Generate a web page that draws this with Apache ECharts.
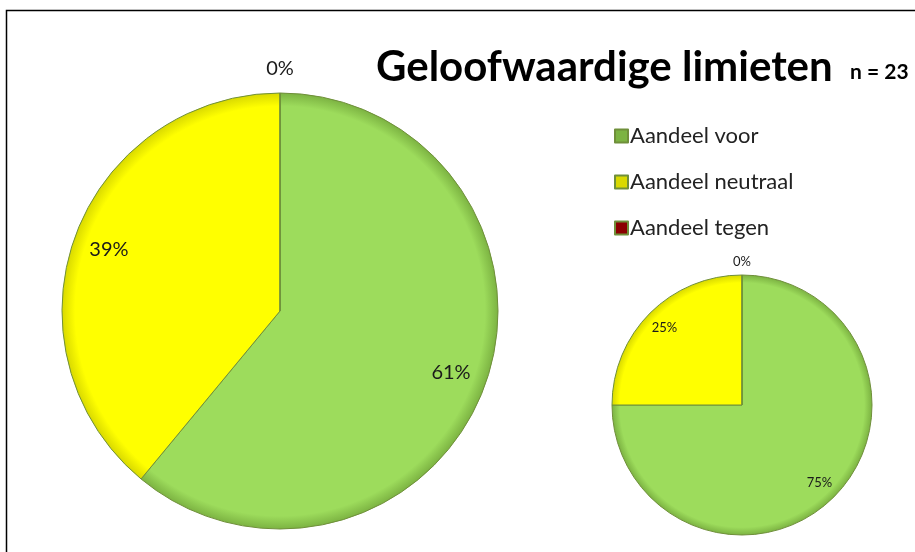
<!DOCTYPE html>
<html>
<head>
<meta charset="utf-8">
<script src="https://cdn.jsdelivr.net/npm/echarts@6/dist/echarts.min.js"></script>
<style>
  html, body { margin: 0; padding: 0; background: #fff; }
  #chart { width: 915px; height: 552px; }
</style>
</head>
<body>
<div id="chart"></div>
<script>
// categorieën en waarden (percentages)
const categories = ['Aandeel voor', 'Aandeel neutraal', 'Aandeel tegen'];
const bigValues = [61, 39, 0];
const smallValues = [75, 25, 0];
const sliceColors = ['#9ddc5c', '#ffff00', '#c00000'];
const edgeColors = ['#7cb342', '#d9d900', '#8b0000'];

const bigPie = { cx: 280, cy: 311, r: 218, font: 20, top: 42 };
const smallPie = { cx: 742, cy: 405, r: 130, font: 13, top: 20 };

var myChart = echarts.init(document.getElementById('chart'));

// kleur met donkere rand (bevel effect)
function fill(i, p) {
  return new echarts.graphic.RadialGradient(p.cx, p.cy, p.r, [
    { offset: 0, color: sliceColors[i] },
    { offset: 0.94, color: sliceColors[i] },
    { offset: 1, color: edgeColors[i] }
  ], true);
}

function pieSeries(values, p) {
  const base = {
    type: 'pie',
    center: [p.cx, p.cy],
    startAngle: 90,
    clockwise: true,
    avoidLabelOverlap: false,
    labelLine: { show: false },
    emphasis: { disabled: true },
    silent: true
  };
  const labelStyle = {
    formatter: '{c}%',
    fontFamily: 'Lato, sans-serif',
    fontSize: p.font,
    color: '#1a1a1a'
  };
  return [
    // de taart zelf
    Object.assign({}, base, {
      radius: [0, p.r],
      label: { show: false },
      data: values.map((v, i) => ({
        name: categories[i],
        value: v,
        itemStyle: { color: fill(i, p), borderColor: '#6f8f3a', borderWidth: 1 }
      }))
    }),
    // labels binnen de taart
    Object.assign({}, base, {
      radius: [p.r * 0.64, p.r],
      itemStyle: { color: 'rgba(0,0,0,0)' },
      data: values.map((v, i) => ({
        name: categories[i],
        value: v,
        label: Object.assign({ show: v > 0, position: 'inside' }, labelStyle)
      }))
    }),
    // label voor 0% boven de taart
    Object.assign({}, base, {
      radius: [p.r, p.r + p.top],
      itemStyle: { color: 'rgba(0,0,0,0)' },
      data: values.map((v, i) => ({
        name: categories[i],
        value: v,
        label: Object.assign({ show: v === 0, position: 'inside' }, labelStyle)
      }))
    })
  ];
}

myChart.setOption({
  animation: false,
  title: [{
    text: 'Geloofwaardige limieten',
    left: 371,
    top: 41,
    textStyle: { fontFamily: 'Lato, sans-serif', fontWeight: 'bold', fontSize: 42, color: '#000' }
  }, {
    text: 'n = 23',
    left: 845,
    top: 57,
    textStyle: { fontFamily: 'Lato, sans-serif', fontWeight: 'bold', fontSize: 21, color: '#000' }
  }],
  legend: {
    data: categories,
    orient: 'vertical',
    left: 609,
    top: 120,
    itemGap: 24,
    itemWidth: 13,
    itemHeight: 13,
    icon: 'rect',
    textStyle: { fontFamily: 'Lato, sans-serif', fontSize: 22, color: '#222', padding: [0, 0, 0, -3] }
  },
  color: sliceColors,
  graphic: [{
    type: 'rect',
    shape: { x: 6.5, y: 10.5, width: 1000, height: 1000 },
    style: { fill: 'none', stroke: '#000', lineWidth: 1.5 },
    silent: true
  }],
  series: [].concat(pieSeries(bigValues, bigPie), pieSeries(smallValues, smallPie))
});
</script>
</body>
</html>
